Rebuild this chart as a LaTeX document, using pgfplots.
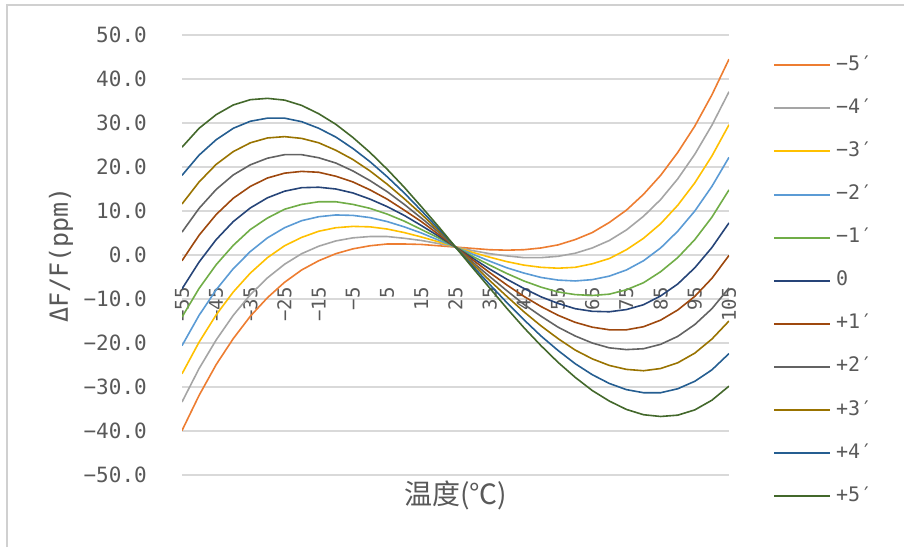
\documentclass[border=0pt]{standalone}
\usepackage{pgfplots}
\pgfplotsset{compat=1.18}
\usepackage{pgfplotstable}
\usepackage{fontspec}
\newfontfamily\monofont{DejaVu Sans Mono}
\newfontfamily\cjk{Noto Sans CJK SC}
\definecolor{txt}{HTML}{595959}
\definecolor{gridc}{HTML}{D9D9D9}
\definecolor{framec}{HTML}{D0D0D0}
\definecolor{c1}{HTML}{ED7D31}
\definecolor{c2}{HTML}{A5A5A5}
\definecolor{c3}{HTML}{FFC000}
\definecolor{c4}{HTML}{5B9BD5}
\definecolor{c5}{HTML}{70AD47}
\definecolor{c6}{HTML}{264478}
\definecolor{c7}{HTML}{9E480E}
\definecolor{c8}{HTML}{636363}
\definecolor{c9}{HTML}{997300}
\definecolor{c10}{HTML}{255E91}
\definecolor{c11}{HTML}{43682B}

\pgfplotstableread{
T m5 m4 m3 m2 m1 z p1 p2 p3 p4 p5
-55 -39.9 -33.4 -27.0 -20.6 -14.1 -7.7 -1.3 5.2 11.6 18.1 24.5
-50 -31.9 -25.8 -19.8 -13.7 -7.6 -1.6 4.5 10.6 16.6 22.7 28.8
-45 -24.9 -19.3 -13.6 -7.9 -2.2 3.5 9.2 14.9 20.6 26.2 31.9
-40 -19.0 -13.7 -8.4 -3.1 2.2 7.6 12.9 18.2 23.5 28.8 34.1
-35 -13.9 -9.0 -4.1 0.8 5.8 10.7 15.6 20.5 25.5 30.4 35.3
-30 -9.7 -5.2 -0.6 3.9 8.4 13.0 17.5 22.0 26.6 31.1 35.6
-25 -6.2 -2.1 2.1 6.2 10.4 14.5 18.6 22.8 26.9 31.1 35.2
-20 -3.4 0.3 4.0 7.8 11.5 15.3 19.0 22.8 26.5 30.3 34.0
-15 -1.3 2.0 5.4 8.7 12.1 15.4 18.8 22.1 25.5 28.8 32.1
-10 0.3 3.2 6.2 9.1 12.1 15.0 17.9 20.9 23.8 26.8 29.7
-5 1.4 3.9 6.5 9.0 11.5 14.1 16.6 19.1 21.7 24.2 26.7
0 2.1 4.2 6.4 8.5 10.6 12.7 14.8 16.9 19.1 21.2 23.3
5 2.5 4.2 5.9 7.6 9.3 11.0 12.7 14.4 16.1 17.8 19.5
10 2.5 3.8 5.1 6.4 7.7 9.0 10.2 11.5 12.8 14.1 15.4
15 2.4 3.3 4.1 5.0 5.8 6.7 7.6 8.4 9.3 10.1 11.0
20 2.1 2.6 3.0 3.4 3.9 4.3 4.7 5.2 5.6 6.0 6.5
25 1.8 1.8 1.8 1.8 1.8 1.8 1.8 1.8 1.8 1.8 1.8
30 1.5 1.0 0.6 0.2 -0.3 -0.7 -1.1 -1.6 -2.0 -2.5 -2.9
35 1.2 0.3 -0.5 -1.4 -2.3 -3.2 -4.0 -4.9 -5.8 -6.7 -7.5
40 1.1 -0.2 -1.5 -2.9 -4.2 -5.5 -6.8 -8.1 -9.4 -10.8 -12.1
45 1.2 -0.6 -2.3 -4.1 -5.9 -7.6 -9.4 -11.2 -12.9 -14.7 -16.5
50 1.6 -0.6 -2.8 -5.1 -7.3 -9.5 -11.7 -13.9 -16.1 -18.4 -20.6
55 2.3 -0.3 -3.0 -5.7 -8.4 -11.0 -13.7 -16.4 -19.0 -21.7 -24.4
60 3.5 0.4 -2.8 -5.9 -9.0 -12.2 -15.3 -18.4 -21.6 -24.7 -27.8
65 5.1 1.6 -2.0 -5.6 -9.2 -12.8 -16.4 -20.0 -23.6 -27.2 -30.8
70 7.4 3.3 -0.8 -4.8 -8.9 -12.9 -17.0 -21.1 -25.1 -29.2 -33.2
75 10.2 5.7 1.2 -3.4 -7.9 -12.4 -17.0 -21.5 -26.0 -30.6 -35.1
80 13.8 8.8 3.8 -1.3 -6.3 -11.3 -16.3 -21.3 -26.3 -31.3 -36.3
85 18.1 12.6 7.1 1.6 -3.8 -9.3 -14.8 -20.3 -25.8 -31.3 -36.7
90 23.3 17.3 11.3 5.4 -0.6 -6.6 -12.5 -18.5 -24.5 -30.4 -36.4
95 29.3 22.9 16.4 10.0 3.5 -2.9 -9.4 -15.8 -22.3 -28.7 -35.2
100 36.4 29.5 22.5 15.6 8.6 1.7 -5.3 -12.2 -19.1 -26.1 -33.0
105 44.5 37.1 29.6 22.2 14.8 7.3 -0.1 -7.5 -15.0 -22.4 -29.8
}\data

\begin{document}
\begin{tikzpicture}[x=1pt,y=1pt]
\useasboundingbox (0,0) rectangle (904,547);
\draw[color=framec, line width=1.5pt] (7,0) -- (7,542) -- (904,542);
\begin{axis}[
  at={(182pt,72pt)}, anchor=south west,
  scale only axis, width=547pt, height=440pt,
  xmin=-55, xmax=105, ymin=-50, ymax=50,
  axis line style={draw=none}, tick style={draw=none},
  ymajorgrids, grid style={color=gridc, line width=1.2pt},
  ytick={-50,-40,...,50},
  yticklabels={−50.0,−40.0,−30.0,−20.0,−10.0,0.0,10.0,20.0,30.0,40.0,50.0},
  xtick={-55,-45,...,105},
  xticklabels={−55,−45,−35,−25,−15,−5,5,15,25,35,45,55,65,75,85,95,105},
  yticklabel style={font=\monofont\fontsize{21}{25}\selectfont, text=txt, anchor=east, inner sep=0pt, xshift=-35pt},
  xticklabel style={font=\monofont\fontsize{19}{23}\selectfont, text=txt, rotate=90, anchor=east, inner sep=0pt},
  xticklabel shift=-188pt,
  xlabel={\cjk 温度(℃)},
  ylabel={ΔF/F(ppm)},
  every axis x label/.style={at={(rel axis cs:0.5,0)}, anchor=center, yshift=-20pt, font=\cjk\fontsize{28}{32}\selectfont, text=txt},
  every axis y label/.style={at={(rel axis cs:0,0.5)}, xshift=-121pt, rotate=90, anchor=center, font=\monofont\fontsize{25}{29}\selectfont, text=txt},
  legend style={at={(rel axis cs:1,1)}, anchor=north west, xshift=44pt, yshift=-21pt,
    draw=none, fill=none, inner sep=0pt, row sep=25.1pt,
    font=\monofont\fontsize{20}{24}\selectfont, text=txt,
    nodes={inner sep=0pt, text height=14pt, text depth=4pt},
    /tikz/every odd column/.style={column sep=5pt}},
  legend image code/.code={\draw[#1, line width=2pt] (0pt,0pt) -- (56pt,0pt);},
  legend cell align=left,
  every axis plot/.append style={line width=1.6pt},
]
\addplot[c1] table[x=T,y=m5]{\data};
\addplot[c2] table[x=T,y=m4]{\data};
\addplot[c3] table[x=T,y=m3]{\data};
\addplot[c4] table[x=T,y=m2]{\data};
\addplot[c5] table[x=T,y=m1]{\data};
\addplot[c6] table[x=T,y=z]{\data};
\addplot[c7] table[x=T,y=p1]{\data};
\addplot[c8] table[x=T,y=p2]{\data};
\addplot[c9] table[x=T,y=p3]{\data};
\addplot[c10] table[x=T,y=p4]{\data};
\addplot[c11] table[x=T,y=p5]{\data};
\legend{−5′,−4′,−3′,−2′,−1′,0,+1′,+2′,+3′,+4′,+5′}
\end{axis}
\end{tikzpicture}
\end{document}
